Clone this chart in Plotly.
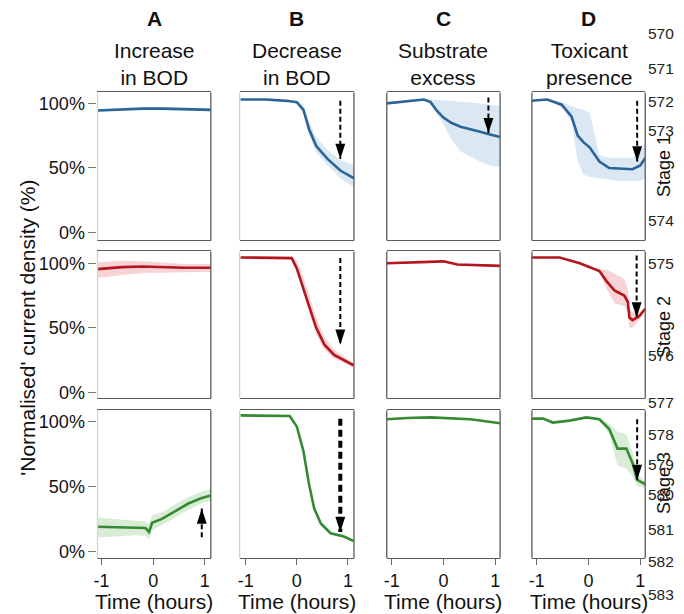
import plotly.graph_objects as go

# ---------------- data ----------------
col_titles = ["A", "B", "C", "D"]
col_subtitles = ["Increase<br>in BOD", "Decrease<br>in BOD", "Substrate<br>excess", "Toxicant<br>presence"]
stage_labels = ["Stage 1", "Stage 2", "Stage 3"]
line_numbers = ["570", "571", "572", "573", "574", "575", "576", "577", "578", "579", "580", "581", "582", "583"]
y_tick_vals = [0, 50, 100]
y_tick_text = ["0%", "50%", "100%"]
x_tick_vals = [-1, 0, 1]
x_tick_text = ["-1", "0", "1"]

# Stage 1 (blue)
t_A1 = [-1.08, -0.6, -0.2, 0.2, 0.6, 1.12]
m_A1 = [94.5, 95.5, 96, 96, 95.5, 95]
hi_A1 = [95.5, 96.5, 97, 97, 96.5, 96]
lo_A1 = [93.5, 94.5, 95, 95, 94.5, 94]

t_B1 = [-1.1, -0.6, -0.2, 0.0, 0.13, 0.24, 0.38, 0.6, 0.85, 1.12]
m_B1 = [103, 103, 102, 101, 95, 80, 67, 57, 48, 42]
hi_B1 = [103.5, 103.5, 102.5, 102, 99, 86, 74, 64, 56, 52]
lo_B1 = [102.5, 102.5, 101.5, 100, 92, 75, 62, 52, 42, 35]

t_C1 = [-1.1, -0.7, -0.38, -0.25, -0.12, 0.0, 0.15, 0.33, 0.5, 0.71, 0.9, 1.1]
m_C1 = [100, 101.5, 103, 101, 94, 89, 85, 82, 80, 78, 76, 74]
hi_C1 = [100.5, 102, 103.5, 103, 103, 102.5, 102, 101.5, 101, 100, 99, 98]
lo_C1 = [99.5, 101, 102.5, 100, 92, 84, 72, 63, 59, 55, 52, 51]

t_D1 = [-1.1, -0.8, -0.52, -0.33, -0.21, -0.1, 0.02, 0.21, 0.4, 0.6, 0.85, 1.0, 1.1]
m_D1 = [102, 103, 99, 90, 75, 70, 66, 55, 50, 49.5, 49, 52, 58]
hi_D1 = [102.5, 103.5, 101, 98, 96, 95, 93, 60, 58, 58, 58, 63, 71]
lo_D1 = [101.5, 102.5, 97, 86, 55, 45, 43, 42, 41, 40, 40, 40, 42]

# Stage 2 (red)
t_A2 = [-1.08, -0.6, -0.2, 0.2, 0.6, 1.12]
m_A2 = [95.5, 97, 97.5, 97, 96.5, 96.5]
hi_A2 = [100.5, 102, 101.5, 100.5, 99.5, 99.5]
lo_A2 = [88.5, 91, 92.5, 93, 93, 93.5]

t_B2 = [-1.1, -0.5, -0.1, 0.0, 0.1, 0.23, 0.38, 0.54, 0.73, 0.92, 1.11]
m_B2 = [104.5, 104.5, 104, 96, 83, 68, 50, 37, 29, 25, 21]
hi_B2 = [105, 105, 105, 102, 92, 77, 58, 43, 33, 28, 23]
lo_B2 = [104, 104, 103, 94, 80, 64, 45, 33, 26, 23, 19]

t_C2 = [-1.1, -0.5, 0.0, 0.27, 0.6, 1.1]
m_C2 = [100, 100.5, 101.5, 99, 98.5, 98]
hi_C2 = [100.8, 101.3, 102.3, 99.8, 99.3, 98.8]
lo_C2 = [99.2, 99.7, 100.7, 98.2, 97.7, 97.2]

t_D2 = [-1.1, -0.56, -0.17, 0.21, 0.35, 0.5, 0.69, 0.76, 0.79, 0.85, 0.98, 1.1]
m_D2 = [104.5, 104.5, 100, 94, 86, 79, 75, 70, 58, 56, 59, 65]
hi_D2 = [105, 105, 100.5, 95, 95, 92, 88, 80, 65, 62, 62, 66]
lo_D2 = [104, 104, 99.5, 93, 80, 69, 67, 62, 50, 50, 56, 64]

# Stage 3 (green)
t_A3 = [-1.08, -0.7, -0.35, -0.15, -0.08, -0.02, 0.17, 0.42, 0.69, 0.94, 1.12]
m_A3 = [19, 18.5, 18.5, 18, 15, 22, 25, 31, 37, 41, 43]
hi_A3 = [26, 24.5, 23.5, 23, 21, 28, 30, 36, 42, 46, 48]
lo_A3 = [11, 11.5, 12.5, 12, 9, 16, 20, 26, 32, 37, 39]

t_B3 = [-1.1, -0.6, -0.14, 0.0, 0.13, 0.24, 0.34, 0.47, 0.66, 0.92, 1.11]
m_B3 = [104.5, 104.5, 104, 96, 77, 51.5, 33, 21.5, 14, 11.5, 8]
hi_B3 = [105.5, 105.5, 105, 97.5, 79, 54, 35, 23, 15, 12.5, 9]
lo_B3 = [103.5, 103.5, 103, 94.5, 75, 49, 31, 20, 13, 10.5, 7]

t_C3 = [-1.1, -0.7, -0.25, 0.1, 0.52, 1.1]
m_C3 = [101.5, 102.5, 103, 102.5, 101.5, 98.5]
hi_C3 = [102.2, 103.2, 103.7, 103.2, 102.2, 99.2]
lo_C3 = [100.8, 101.8, 102.3, 101.8, 100.8, 97.8]

t_D3 = [-1.1, -0.88, -0.69, -0.37, -0.04, 0.21, 0.4, 0.56, 0.73, 0.85, 0.94, 1.1]
m_D3 = [102, 102, 99, 100.5, 103, 101.5, 94, 79, 79, 68, 55, 51.5]
hi_D3 = [102.5, 102.5, 99.5, 101, 103.5, 102.5, 98, 92, 90, 76, 60, 54]
lo_D3 = [101.5, 101.5, 98.5, 100, 102.5, 100.5, 90, 66, 64, 58, 50, 49]

# arrows: panel, time, start value, tip value
arrow_panel = ["B1", "C1", "D1", "B2", "D2", "A3", "B3", "D3"]
arrow_t = [0.85, 0.87, 0.94, 0.85, 0.93, 0.94, 0.85, 0.94]
arrow_from = [102, 104.5, 102, 104, 106, 11, 102, 101.5]
arrow_to = [57, 77, 55, 37, 58, 33, 15, 55]

# ---------------- styling ----------------
line_colors = ["#2b6597", "#b3161f", "#368a34"]
band_colors = ["#dbe8f4", "#f8d3d5", "#d9edd6"]
FONT = "Liberation Sans, Arial, sans-serif"

# the page body has an 8px margin, so the figure is drawn 8px smaller
OFF = 8
W, H = 684 - OFF, 614 - OFF
col_px = [(94, 208), (237, 352), (385, 499), (531, 645)]
row_px = [(93, 242), (253, 401), (413, 562)]
x_ranges = [[-1.077, 1.115], [-1.117, 1.117], [-1.096, 1.096], [-1.096, 1.096]]
y_ranges = [[-6.15, 108.5], [-4.6, 109.2], [-5.3, 108.4]]

panels = {
    "A1": (t_A1, m_A1, hi_A1, lo_A1), "B1": (t_B1, m_B1, hi_B1, lo_B1),
    "C1": (t_C1, m_C1, hi_C1, lo_C1), "D1": (t_D1, m_D1, hi_D1, lo_D1),
    "A2": (t_A2, m_A2, hi_A2, lo_A2), "B2": (t_B2, m_B2, hi_B2, lo_B2),
    "C2": (t_C2, m_C2, hi_C2, lo_C2), "D2": (t_D2, m_D2, hi_D2, lo_D2),
    "A3": (t_A3, m_A3, hi_A3, lo_A3), "B3": (t_B3, m_B3, hi_B3, lo_B3),
    "C3": (t_C3, m_C3, hi_C3, lo_C3), "D3": (t_D3, m_D3, hi_D3, lo_D3),
}


def px(x):
    return (x - OFF) / W


def py(y):
    return 1 - (y - OFF) / H


def axis_ids(r, c):
    k = r * 4 + c + 1
    s = "" if k == 1 else str(k)
    return "x" + s, "y" + s, "xaxis" + s, "yaxis" + s


fig = go.Figure()
layout = {}
shapes = []

for r in range(3):
    for c in range(4):
        name = col_titles[c] + str(r + 1)
        xa, ya, xkey, ykey = axis_ids(r, c)
        t, m, hi, lo = panels[name]
        fig.add_trace(go.Scatter(
            x=list(t) + list(t)[::-1], y=list(hi) + list(lo)[::-1],
            fill="toself", fillcolor=band_colors[r], line=dict(width=0),
            mode="lines", hoverinfo="skip", showlegend=False, xaxis=xa, yaxis=ya))
        fig.add_trace(go.Scatter(
            x=t, y=m, mode="lines", line=dict(color=line_colors[r], width=2.6),
            showlegend=False, xaxis=xa, yaxis=ya))

        bottom = r == 2
        layout[xkey] = dict(
            domain=[px(col_px[c][0]), px(col_px[c][1])], range=x_ranges[c],
            anchor=ya, showgrid=False, zeroline=False,
            showline=True, mirror=True, linecolor="#5a5a5a", linewidth=1.3,
            ticks="outside" if bottom else "", ticklen=6, tickcolor="#666",
            tickvals=x_tick_vals, ticktext=x_tick_text, showticklabels=bottom,
            tickfont=dict(size=18, color="#111", family=FONT))
        first = c == 0
        layout[ykey] = dict(
            domain=[py(row_px[r][1]), py(row_px[r][0])], range=y_ranges[r],
            anchor=xa, showgrid=False, zeroline=False, showline=False,
            ticks="outside" if first else "", ticklen=8, tickcolor="#777",
            tickvals=y_tick_vals, ticktext=y_tick_text, showticklabels=first,
            tickfont=dict(size=18, color="#111", family=FONT))
        # frame sides
        left_col = "#d4d4d4" if c < 2 else "#5a5a5a"
        shapes.append(dict(type="line", xref=xa + " domain", yref=ya + " domain",
                           x0=0, x1=0, y0=0, y1=1, line=dict(color=left_col, width=1.3)))
        shapes.append(dict(type="line", xref=xa + " domain", yref=ya + " domain",
                           x0=1, x1=1, y0=0, y1=1, line=dict(color="#5a5a5a", width=1.3)))

# arrows
for name, t, y0, y1 in zip(arrow_panel, arrow_t, arrow_from, arrow_to):
    c = col_titles.index(name[0])
    r = int(name[1]) - 1
    xa, ya, _, _ = axis_ids(r, c)
    thick = name == "B3"
    up = y1 > y0
    fig.add_trace(go.Scatter(
        x=[t, t], y=[y0, y1], mode="lines",
        line=dict(color="black", width=4 if thick else 2,
                  dash="7px,4px" if thick else "5px,3px"),
        showlegend=False, hoverinfo="skip", xaxis=xa, yaxis=ya))
    fig.add_trace(go.Scatter(
        x=[t], y=[y1], mode="markers",
        marker=dict(symbol="arrow", angle=0 if up else 180, size=16,
                    color="black", line=dict(width=0)),
        showlegend=False, hoverinfo="skip", xaxis=xa, yaxis=ya))

annotations = []


def add_text(text, x, y, size, angle=0, xanchor="center", color="#111"):
    annotations.append(dict(text=text, x=px(x), y=py(y), xref="paper", yref="paper",
                            xanchor=xanchor, yanchor="middle", showarrow=False,
                            textangle=angle,
                            font=dict(size=size, color=color, family=FONT)))


for c in range(4):
    cx = (col_px[c][0] + col_px[c][1]) / 2
    add_text("<b>" + col_titles[c] + "</b>", cx, 19, 21)
    add_text(col_subtitles[c], cx, 64, 21)
    add_text("Time (hours)", cx, 605, 21)

add_text("'Normalised' current density (%)", 24, 330, 21, angle=-90)

stage_y = [167, 329, 486]
for s, yy in zip(stage_labels, stage_y):
    add_text(s, 664, yy, 18, angle=-90)

line_num_y = [34, 69, 102, 131, 222, 265, 358, 405, 437, 468, 498, 533, 565, 598]
for s, yy in zip(line_numbers, line_num_y):
    add_text(s, 646, yy, 15.5, xanchor="left", color="#222")

fig.update_layout(
    width=W, height=H, margin=dict(l=0, r=0, t=0, b=0),
    paper_bgcolor="white", plot_bgcolor="white",
    shapes=shapes, annotations=annotations, **layout)

fig.write_html("out.html")
